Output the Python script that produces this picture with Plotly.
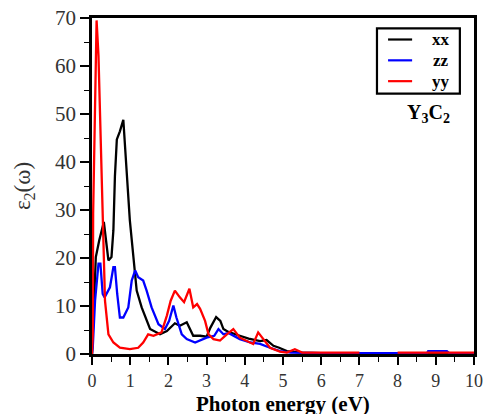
import plotly.graph_objects as go

# xx (black)
xx_x = [0.0, 0.02, 0.1, 0.19, 0.31, 0.43, 0.51, 0.56, 0.60, 0.65, 0.73, 0.82, 0.86, 0.91, 0.99, 1.08, 1.17, 1.30, 1.52, 1.78, 1.96, 2.17, 2.30, 2.48, 2.65, 2.83, 3.0, 3.1, 3.25, 3.36, 3.44, 3.57, 3.70, 3.87, 4.1, 4.4, 4.57, 4.75, 4.9, 5.1, 5.5, 6.0, 7.0, 8.0, 9.0, 10.0]
xx_y = [0.0, 4.1, 20.2, 23.7, 27.5, 19.5, 20.2, 25.8, 37.0, 44.7, 46.4, 48.8, 44.7, 37.7, 27.9, 20.9, 13.2, 9.7, 5.2, 4.1, 4.8, 6.4, 5.9, 6.6, 3.8, 3.8, 3.6, 5.5, 7.7, 6.9, 5.2, 4.6, 4.3, 3.8, 3.2, 2.7, 2.9, 1.7, 1.3, 0.6, 0.3, 0.2, 0.2, 0.2, 0.2, 0.2]

# zz (blue)
zz_x = [0.0, 0.02, 0.08, 0.17, 0.22, 0.28, 0.33, 0.47, 0.56, 0.60, 0.66, 0.73, 0.82, 0.95, 1.04, 1.13, 1.21, 1.34, 1.43, 1.56, 1.74, 1.91, 2.02, 2.13, 2.21, 2.35, 2.48, 2.70, 3.0, 3.2, 3.31, 3.44, 3.57, 3.70, 3.87, 4.14, 4.4, 4.66, 4.92, 5.2, 6.0, 8.0, 8.77, 8.8, 9.29, 9.35, 10.0]
zz_y = [0.0, 1.3, 11.1, 18.8, 18.8, 12.5, 11.8, 13.9, 18.1, 18.1, 12.5, 7.6, 7.6, 9.7, 15.3, 17.4, 16.0, 15.3, 13.2, 9.7, 6.2, 5.2, 6.9, 10.1, 7.6, 4.1, 3.1, 2.4, 3.4, 3.8, 5.2, 4.1, 4.4, 3.8, 3.1, 2.4, 2.1, 1.3, 0.6, 0.3, 0.2, 0.2, 0.2, 0.6, 0.6, 0.2, 0.2]

# yy (red)
yy_x = [0.0, 0.02, 0.03, 0.08, 0.12, 0.17, 0.21, 0.25, 0.30, 0.34, 0.43, 0.56, 0.73, 0.99, 1.21, 1.34, 1.47, 1.61, 1.82, 1.96, 2.06, 2.17, 2.30, 2.41, 2.55, 2.65, 2.75, 2.83, 2.96, 3.05, 3.18, 3.35, 3.53, 3.70, 3.87, 4.05, 4.22, 4.35, 4.48, 4.66, 4.92, 5.1, 5.31, 5.5, 6.0, 7.0, 7.01, 7.99, 8.0, 9.0, 10.0]
yy_y = [0.0, 4.1, 29.3, 55.1, 69.5, 62.1, 48.8, 36.3, 25.1, 11.1, 4.1, 2.4, 1.3, 1.0, 1.3, 2.4, 4.1, 3.8, 4.5, 8.0, 11.1, 13.2, 11.8, 10.8, 13.6, 9.7, 10.4, 9.4, 6.9, 4.1, 3.1, 2.8, 4.1, 5.2, 3.4, 2.8, 2.1, 4.5, 3.1, 1.3, 0.5, 0.3, 1.0, 0.3, 0.3, 0.3, None, None, 0.3, 0.3, 0.3]

series_names = ["xx", "zz", "yy"]
series_colors = ["black", "#0000ff", "#ff0000"]
x_title = "Photon energy (eV)"
y_title = "ε<sub>2</sub>(ω)"
label = "Y<sub>3</sub>C<sub>2</sub>"

serif = "Liberation Serif"

fig = go.Figure()
for name, xs, ys, col in zip(series_names, [xx_x, zz_x, yy_x], [xx_y, zz_y, yy_y], series_colors):
    fig.add_trace(go.Scatter(x=xs, y=ys, mode="lines", name=name,
                             line=dict(color=col, width=2.3), connectgaps=False))

# legend drawn manually (tight spacing like the reference)
shapes = [dict(type="rect", xref="paper", yref="paper", x0=0.746, x1=0.963, y0=0.775, y1=0.969,
               line=dict(color="black", width=2.2), fillcolor="white", layer="above")]
annotations = []
row_y = [0.936, 0.874, 0.812]
for name, col, ry in zip(series_names, series_colors, row_y):
    shapes.append(dict(type="line", xref="paper", yref="paper", x0=0.775, x1=0.838, y0=ry, y1=ry,
                       line=dict(color=col, width=2.2), layer="above"))
    annotations.append(dict(x=0.914, y=ry, xref="paper", yref="paper", text="<b>%s</b>" % name,
                            showarrow=False, xanchor="center", yanchor="middle",
                            font=dict(family=serif, size=17, color="black")))
annotations.append(dict(x=0.880, y=0.716, xref="paper", yref="paper",
                        text="<b>%s</b>" % label, showarrow=False,
                        xanchor="center", yanchor="middle",
                        font=dict(family=serif, size=20, color="black")))
# x-axis title
annotations.append(dict(x=0.5, y=-0.148, xref="paper", yref="paper",
                        text="<b>%s</b>" % x_title, showarrow=False,
                        xanchor="center", yanchor="middle",
                        font=dict(family=serif, size=21, color="black")))

fig.update_layout(
    width=488, height=414,
    margin=dict(l=92, r=14, t=18, b=60),
    paper_bgcolor="white", plot_bgcolor="white",
    font=dict(family=serif, size=20, color="#222"),
    showlegend=False,
    shapes=shapes,
    annotations=annotations,
    xaxis=dict(range=[0, 10], tickmode="linear", tick0=0, dtick=1, automargin=False,
               ticks="outside", ticklen=8, tickwidth=1.6, tickcolor="black",
               showline=True, linewidth=2.8, linecolor="black", mirror=True,
               showgrid=False, zeroline=False,
               minor=dict(dtick=0.5, ticks="outside", ticklen=5, tickcolor="black", tickwidth=1.3),
               tickfont=dict(family=serif, size=18, color="#333")),
    yaxis=dict(range=[0, 70], tickmode="linear", tick0=0, dtick=10, automargin=False,
               ticks="outside", ticklen=9, tickwidth=1.6, tickcolor="black",
               showline=True, linewidth=2.8, linecolor="black", mirror=True,
               showgrid=False, zeroline=False,
               minor=dict(dtick=5, ticks="outside", ticklen=5, tickcolor="black", tickwidth=1.3),
               tickfont=dict(family=serif, size=21, color="#333"),
               title=dict(text=y_title, standoff=18,
                          font=dict(family=serif, size=23, color="#333"))),
)

fig.write_html("out.html")
